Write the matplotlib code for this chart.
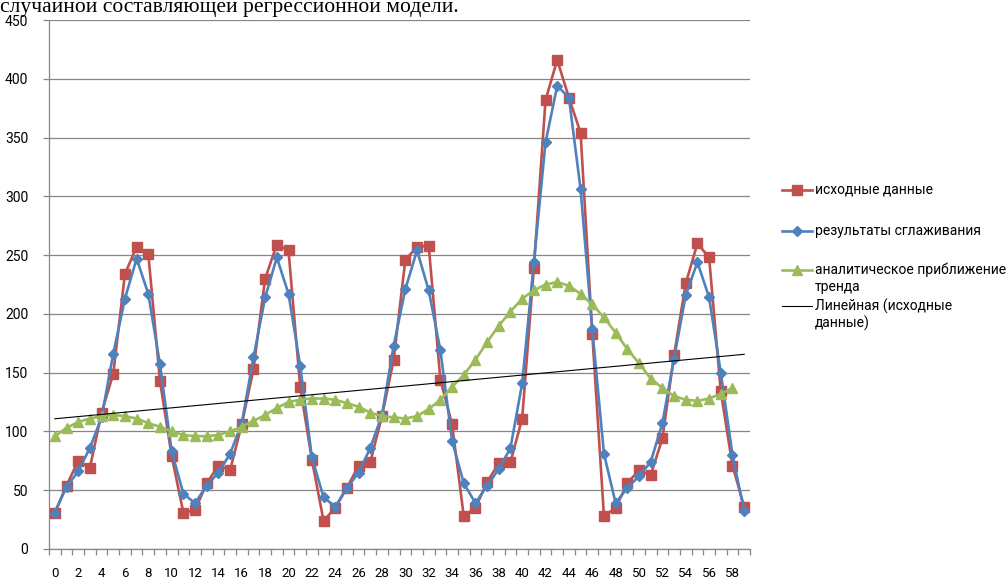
import numpy as np
import matplotlib
matplotlib.use("Agg")
import matplotlib.pyplot as plt
from matplotlib.lines import Line2D

# Observation index (categories 0..59)
periods = list(range(60))

# Original series
source_data = [31, 54, 75, 69, 116, 149, 234, 257, 251, 143,
               79, 31, 33, 56, 71, 67, 106, 153, 230, 259,
               254, 138, 76, 24, 35, 52, 71, 74, 113, 161,
               246, 257, 258, 144, 106, 28, 35, 57, 73, 74,
               111, 239, 382, 416, 384, 354, 183, 28, 35, 56,
               67, 63, 94, 165, 226, 260, 248, 134, 71, 36]

# Smoothed series
smoothed = [31, 53, 66, 86, 112, 166, 213, 247, 217, 157,
            83, 47, 39, 54, 65, 81, 107, 163, 214, 248,
            217, 156, 78, 44, 36, 52, 65, 86, 114, 173,
            221, 254, 220, 169, 92, 56, 39, 54, 68, 86,
            141, 244, 346, 394, 384, 306, 187, 81, 39, 52,
            62, 74, 107, 162, 216, 244, 214, 150, 80, 32]

# Analytical trend approximation (59 points)
trend_fit = [96, 103, 108, 111, 113, 114, 113, 111, 107, 104,
             100, 97, 96, 96, 97, 100, 104, 109, 114, 120,
             125, 127, 128, 128, 127, 124, 121, 116, 113, 112,
             111, 113, 119, 127, 138, 148, 161, 176, 190, 202,
             213, 220, 225, 227, 224, 217, 208, 197, 184, 170,
             158, 145, 137, 130, 127, 126, 128, 132, 137]

y_ticks = list(range(0, 451, 50))
x_labels = [str(v) for v in range(0, 60, 2)]

series_names = ["исходные данные", "результаты сглаживания",
                "аналитическое приближение\nтренда", "Линейная (исходные\nданные)"]
heading = "случайной составляющей регрессионной модели."

RED = "#C0504D"
BLUE = "#4F81BD"
GREEN = "#9BBB59"
GRID = "#868686"
SANS = ["Roboto", "DejaVu Sans"]

W, H = 1007, 580
fig = plt.figure(figsize=(W / 100, H / 100), dpi=100)
ax = fig.add_axes([49 / W, 31 / H, 701 / W, 529 / H])

x = np.array(periods)
ax.plot(x, source_data, color=RED, lw=1.9, marker="s", ms=7.5,
        mec=RED, mfc=RED, zorder=3)
ax.plot(x, smoothed, color=BLUE, lw=1.9, marker="D", ms=5.5,
        mec=BLUE, mfc=BLUE, zorder=4)
ax.plot(x[:len(trend_fit)], trend_fit, color=GREEN, lw=1.9, marker="^",
        ms=7.5, mec=GREEN, mfc=GREEN, zorder=5)

# Least-squares linear trend of the original series
k, b = np.polyfit(x, source_data, 1)
ax.plot(x, k * x + b, color="black", lw=0.8, zorder=6)

ax.set_xlim(-0.5, 59.5)
ax.set_ylim(0, 450)

# Horizontal gridlines
ax.set_yticks(y_ticks)
ax.yaxis.grid(True, color=GRID, lw=0.9)
ax.set_axisbelow(True)

# Category boundaries carry tick marks; labels sit on every other category
ax.set_xticks(np.arange(-0.5, 60, 1.0))
ax.set_xticklabels([])
ax.set_xticks(np.arange(0, 60, 2), minor=True)
ax.set_xticklabels(x_labels, minor=True)
ax.tick_params(axis="x", which="major", direction="out", length=4,
               color=GRID, width=0.9)
ax.tick_params(axis="x", which="minor", length=0, pad=13, labelsize=9.5)
ax.tick_params(axis="y", direction="out", length=4, color=GRID, width=0.9,
               pad=11, labelsize=10)
for lbl in ax.get_xticklabels(minor=True) + ax.get_yticklabels():
    lbl.set_family(SANS)

for side in ("top", "right"):
    ax.spines[side].set_visible(False)
for side in ("left", "bottom"):
    ax.spines[side].set_color(GRID)
    ax.spines[side].set_linewidth(0.9)

# Legend drawn to the right of the plot area
x0, x1, xt = 782 / W, 812 / W, 815 / W
rows = [(190, RED, "s", 7.5), (231, BLUE, "D", 5.0), (270, GREEN, "^", 7.5),
        (306, "black", None, 0)]
for (yp, col, mk, ms), name in zip(rows, series_names):
    yf = 1 - yp / H
    lw = 1.9 if mk else 0.8
    fig.add_artist(Line2D([x0, x1], [yf, yf], transform=fig.transFigure,
                          color=col, lw=lw))
    if mk:
        fig.add_artist(Line2D([(x0 + x1) / 2], [yf], transform=fig.transFigure,
                              marker=mk, ms=ms, color=col, mec=col, mfc=col))
    for j, line in enumerate(name.split("\n")):
        fig.text(xt, 1 - (yp + j * 17.5) / H, line, ha="left", va="center",
                 fontsize=10, family=SANS, color="black")

# Tail of the preceding sentence, clipped by the top edge
fig.text(0.0, 1 - 12 / H, heading, ha="left", va="baseline", fontsize=15.6,
         family=["Liberation Serif", "DejaVu Serif"], color="black")

fig.savefig("out.png", dpi=100)
